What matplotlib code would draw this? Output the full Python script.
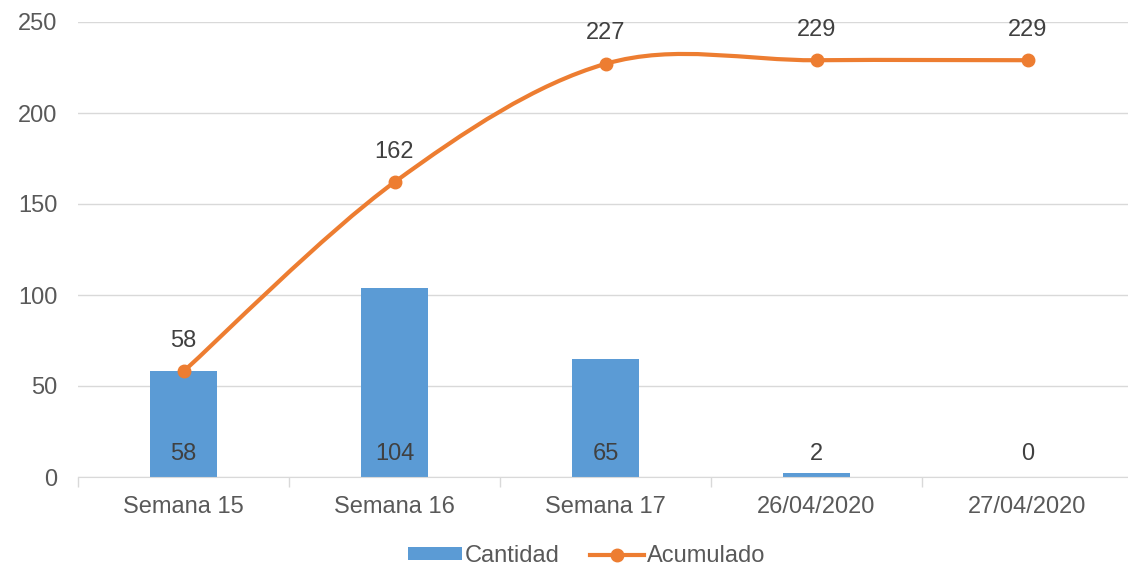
import matplotlib.pyplot as plt
import numpy as np
from matplotlib.path import Path
from matplotlib.patches import PathPatch, Patch
from matplotlib.lines import Line2D

categories = ['Semana 15', 'Semana 16', 'Semana 17', '26/04/2020', '27/04/2020']
cantidad = [58, 104, 65, 2, 0]
acumulado = [58, 162, 227, 229, 229]

blue = '#5B9BD5'
orange = '#ED7D31'
grid = '#D9D9D9'
txt = '#595959'
fs = 17

plt.rcParams['font.family'] = ['Liberation Sans', 'DejaVu Sans']

fig = plt.figure(figsize=(11.28, 5.68), dpi=100)
ax = fig.add_axes([78 / 1128, 1 - 477 / 568, 1055 / 1128, 455 / 568])

x = np.arange(len(categories))
ax.bar(x, cantidad, 0.32, color=blue, zorder=2)
for xi, v in zip(x, cantidad):
    ax.text(xi, 12.5, str(v), ha='center', va='center', fontsize=fs, color='#404040', zorder=4)

# smooth line (Catmull-Rom -> cubic bezier, like Excel smoothing)
pts = np.column_stack([x, acumulado]).astype(float)
verts = [tuple(pts[0])]
codes = [Path.MOVETO]
t = 1 / 6
for i in range(len(pts) - 1):
    p0 = pts[i - 1] if i > 0 else pts[i]
    p1 = pts[i]
    p2 = pts[i + 1]
    p3 = pts[i + 2] if i + 2 < len(pts) else pts[i + 1]
    c1 = p1 + (p2 - p0) * t
    c2 = p2 - (p3 - p1) * t
    verts += [tuple(c1), tuple(c2), tuple(p2)]
    codes += [Path.CURVE4] * 3
ax.add_patch(PathPatch(Path(verts, codes), fill=False, edgecolor=orange, lw=3, zorder=3,
                       capstyle='round'))
ax.plot(x, acumulado, 'o', color=orange, ms=9, zorder=4)
for xi, v in zip(x, acumulado):
    ax.annotate(str(v), (xi, v), xytext=(0, 14), textcoords='offset points',
                ha='center', va='bottom', fontsize=fs, color='#404040')

ax.set_xlim(-0.5, len(categories) - 0.5)
ax.set_ylim(0, 250)
ax.set_yticks(range(0, 251, 50))
ax.yaxis.grid(True, color=grid, lw=1, zorder=0)
ax.set_axisbelow(True)
ax.set_xticks(x)
ax.set_xticklabels(categories)
ax.set_xticks(np.arange(-0.5, len(categories)), minor=True)
ax.tick_params(axis='x', which='major', length=0, pad=14, labelsize=fs, labelcolor=txt)
ax.tick_params(axis='x', which='minor', length=7, color=grid, width=1)
ax.tick_params(axis='y', length=0, pad=15, labelsize=fs, labelcolor=txt)
for s in ['top', 'right', 'left']:
    ax.spines[s].set_visible(False)
ax.spines['bottom'].set_color(grid)

handles = [Patch(facecolor=blue, edgecolor='none'),
           Line2D([0], [0], color=orange, lw=3, marker='o', ms=9)]
fig.legend(handles, ['Cantidad', 'Acumulado'], loc='center', bbox_to_anchor=(0.52, 1 - 556 / 568),
           ncol=2, frameon=False, fontsize=fs, labelcolor=txt, handlelength=2.3, handleheight=0.42,
           handletextpad=0.1, columnspacing=1.3)

fig.savefig('out.png', dpi=100)
